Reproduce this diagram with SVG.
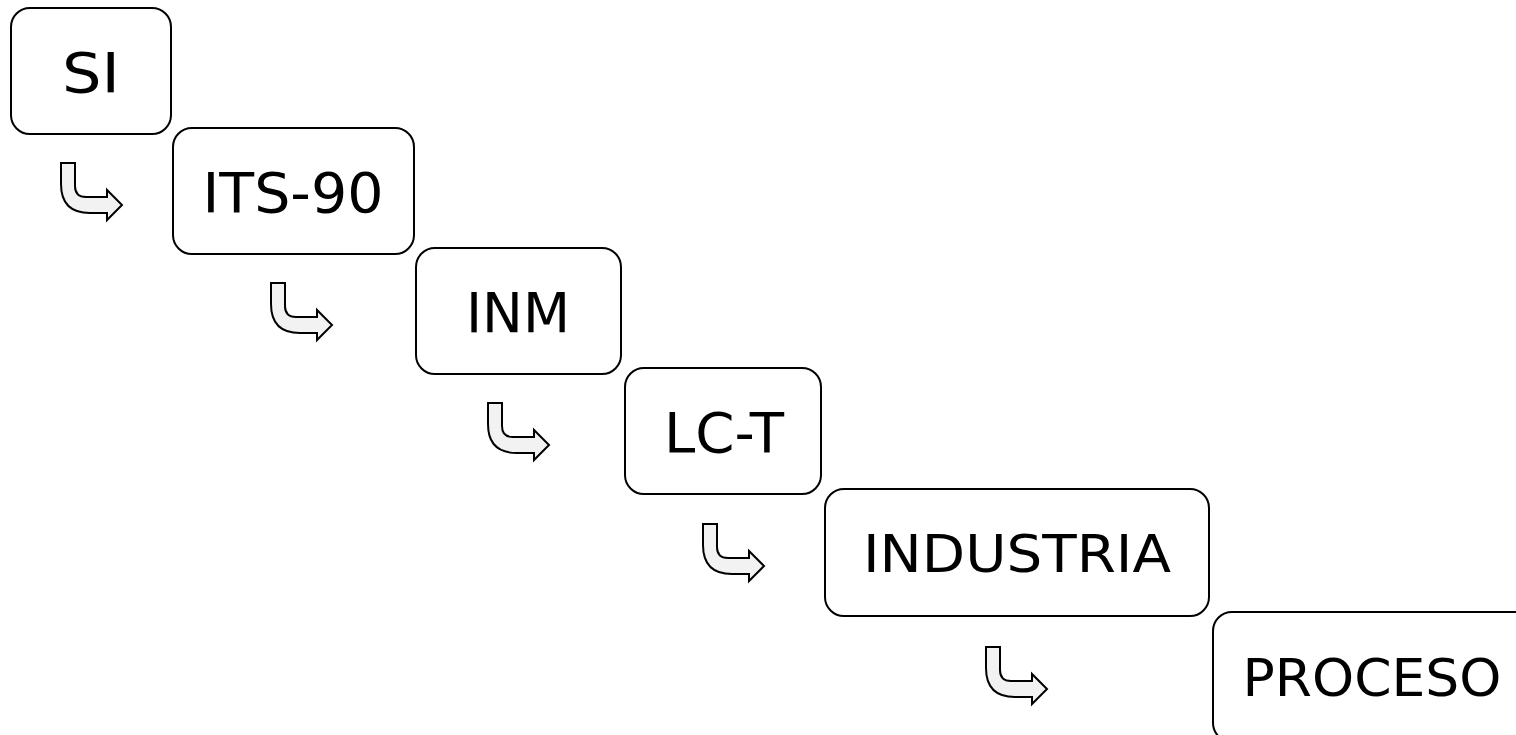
<svg xmlns="http://www.w3.org/2000/svg" width="1516" height="735" viewBox="0 0 1516 735">
<defs>
<style>
.box{fill:#fff;stroke:#000;stroke-width:2}
.lbl{font-family:"DejaVu Sans","Verdana",sans-serif;font-size:55px;fill:#000;text-anchor:middle}
.arr{fill:#f2f2f2;stroke:#000;stroke-width:2;stroke-linejoin:miter}
</style>
<path id="bent" d="M61,163 L75,163 L75,186 Q75,197 86,197 L107,197 L107,190 L122,205 L107,220 L107,213 L90,213 Q61,213 61,184 Z"/>
</defs>
<rect width="1516" height="735" fill="#fff"/>
<g id="connectors">
<use href="#bent" class="arr"/>
<use href="#bent" class="arr" transform="translate(210,120)"/>
<use href="#bent" class="arr" transform="translate(427,240)"/>
<use href="#bent" class="arr" transform="translate(642,361)"/>
<use href="#bent" class="arr" transform="translate(925,484)"/>
</g>
<g id="node-si">
<rect class="box" x="11" y="8" width="160" height="126" rx="19"/>
<text class="lbl" x="91" y="92" textLength="58" lengthAdjust="spacingAndGlyphs">SI</text>
</g>
<g id="node-its90">
<rect class="box" x="173" y="128" width="241" height="126" rx="19"/>
<text class="lbl" x="293" y="212" textLength="181" lengthAdjust="spacingAndGlyphs">ITS-90</text>
</g>
<g id="node-inm">
<rect class="box" x="416" y="248" width="205" height="126" rx="19"/>
<text class="lbl" x="518" y="332" textLength="104" lengthAdjust="spacingAndGlyphs">INM</text>
</g>
<g id="node-lct">
<rect class="box" x="625" y="368" width="196" height="126" rx="19"/>
<text class="lbl" x="724" y="452" textLength="120" lengthAdjust="spacingAndGlyphs">LC-T</text>
</g>
<g id="node-industria">
<rect class="box" x="825" y="489" width="384" height="127" rx="19"/>
<text class="lbl" x="1017" y="572" textLength="308" lengthAdjust="spacingAndGlyphs" style="font-size:52px">INDUSTRIA</text>
</g>
<g id="node-proceso">
<rect class="box" x="1213" y="612" width="320" height="130" rx="19"/>
<text class="lbl" x="1372" y="696" textLength="259" lengthAdjust="spacingAndGlyphs" style="font-size:52px">PROCESO</text>
</g>
</svg>
